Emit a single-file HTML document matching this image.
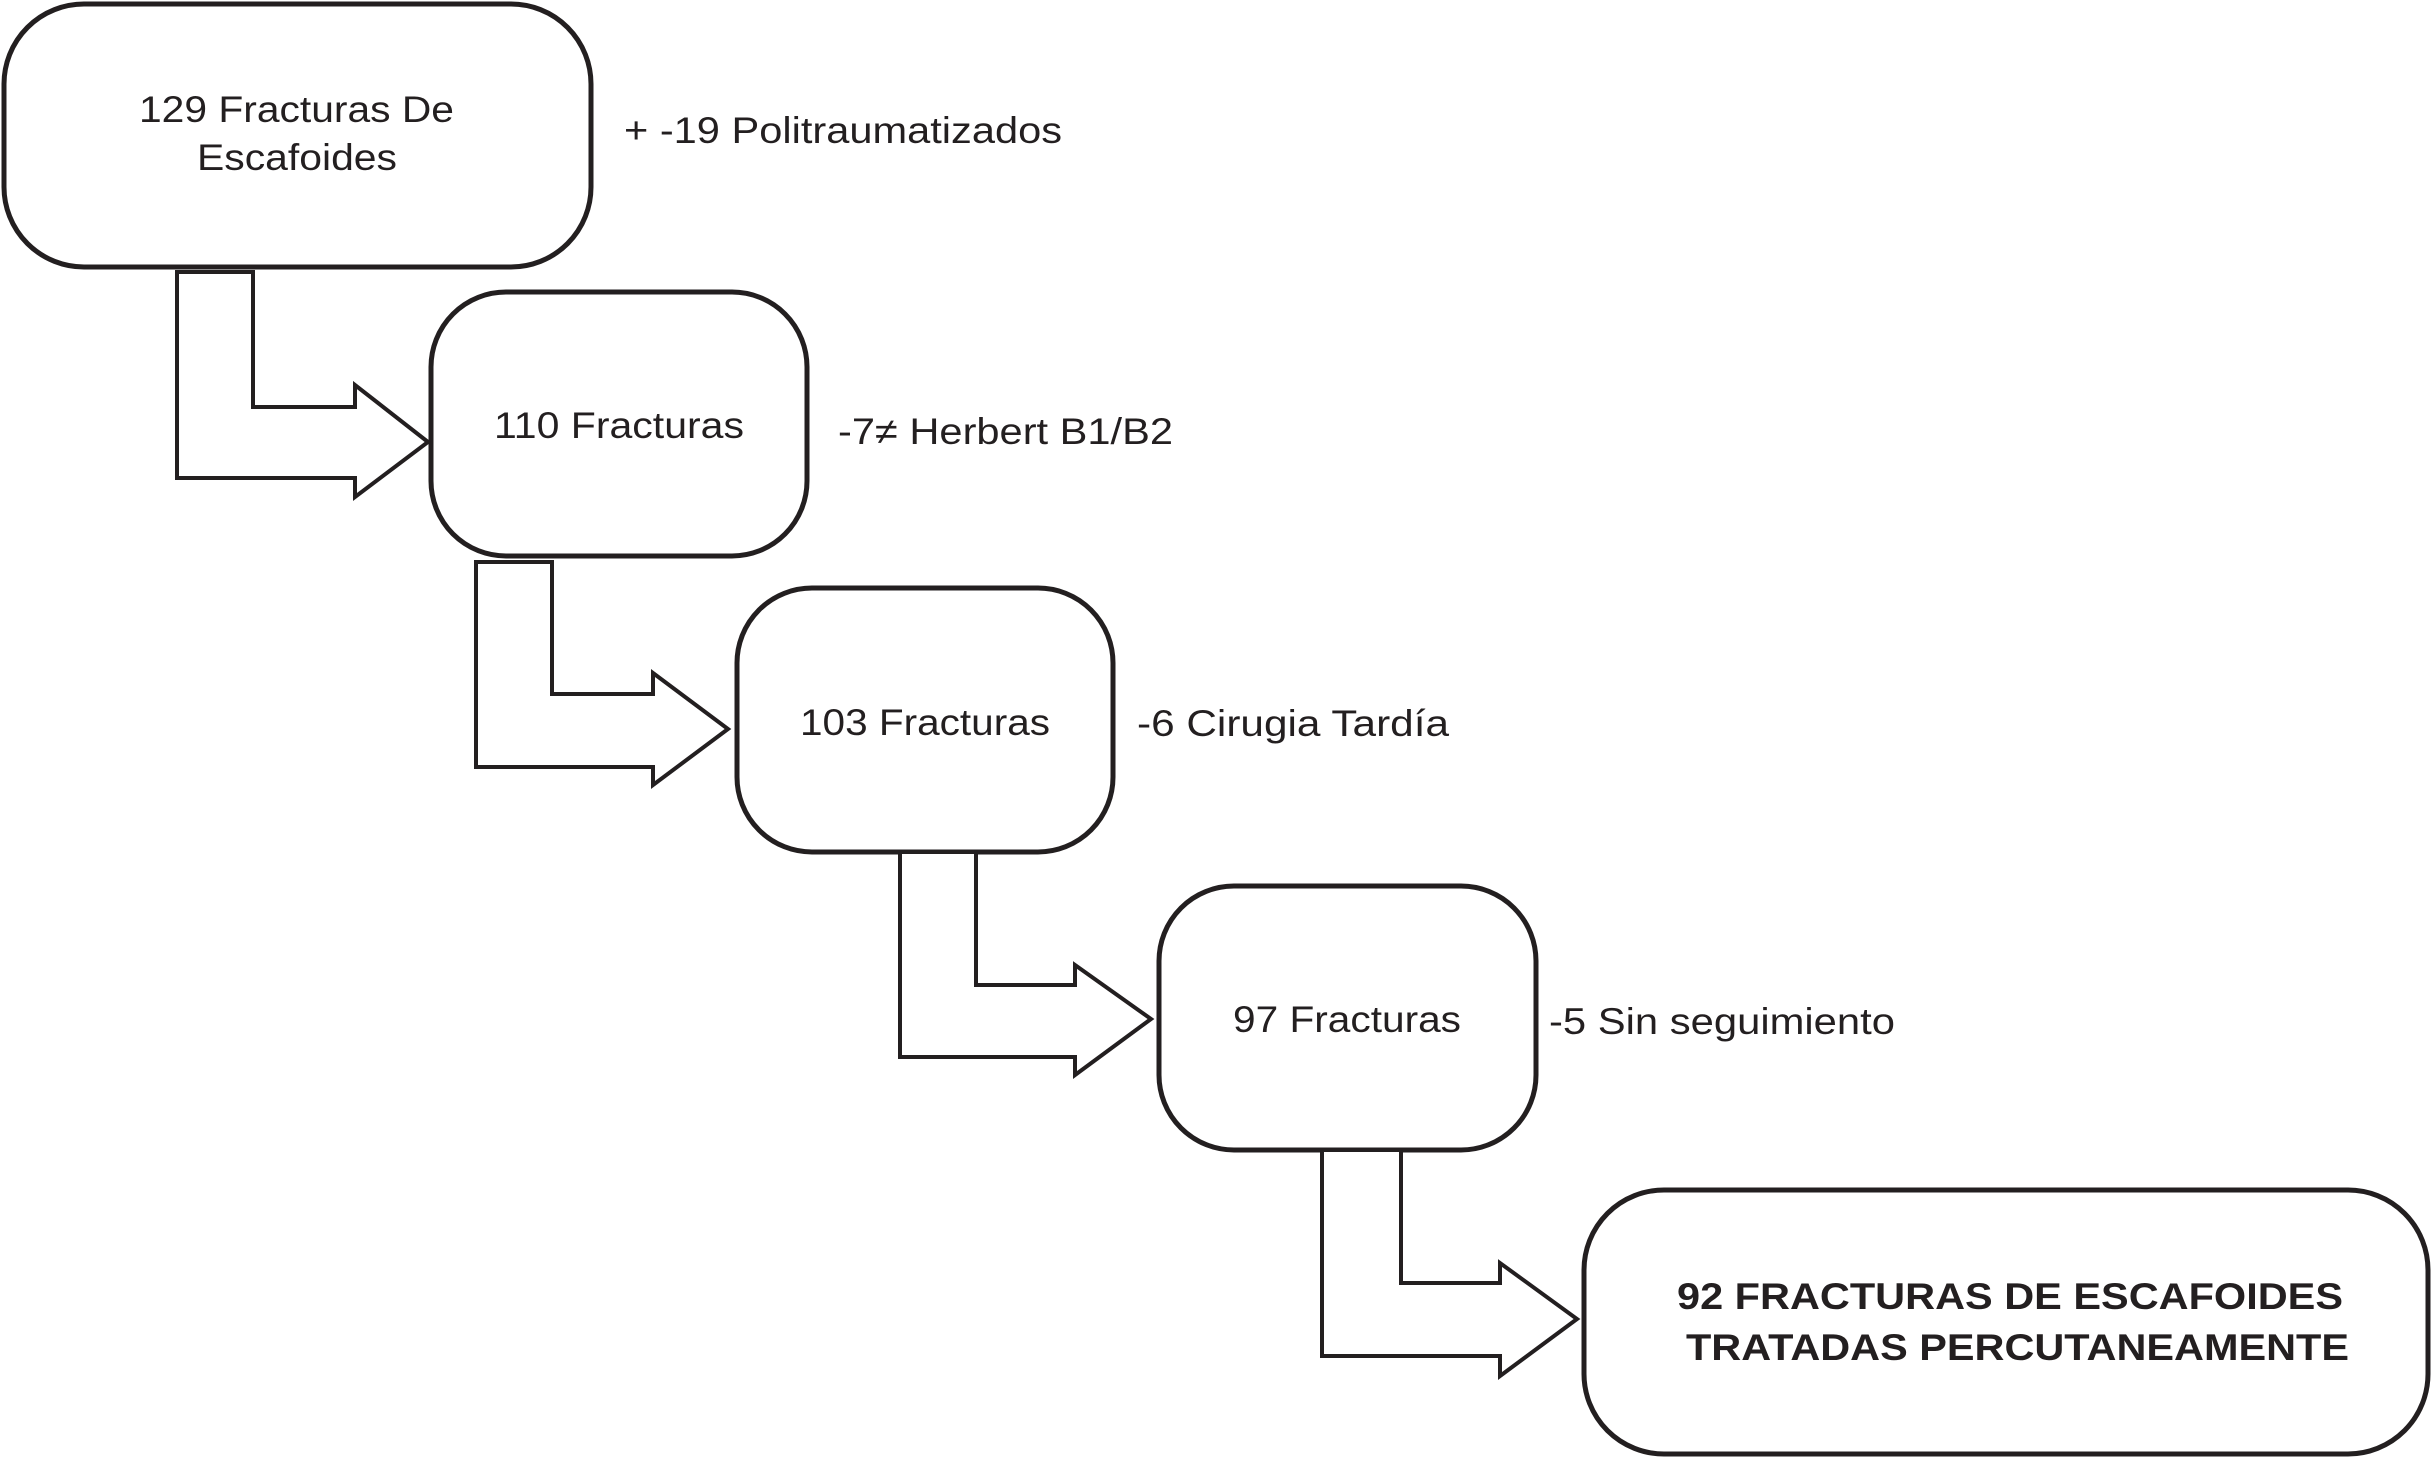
<!DOCTYPE html>
<html><head><meta charset="utf-8"><style>html,body{margin:0;padding:0;background:#fff}svg{display:block}</style></head>
<body>
<svg width="2433" height="1457" viewBox="0 0 2433 1457" xmlns="http://www.w3.org/2000/svg">
<g fill="#fff" stroke="#231f20" stroke-width="5">
<rect x="4" y="4" width="587" height="263" rx="80" ry="80"/>
<rect x="431" y="292" width="376" height="264" rx="75" ry="75"/>
<rect x="737" y="588" width="376" height="264" rx="75" ry="75"/>
<rect x="1159" y="886" width="377" height="264" rx="75" ry="75"/>
<rect x="1584" y="1190" width="844" height="264" rx="80" ry="80"/>
</g>
<g fill="#fff" stroke="#231f20" stroke-width="4" stroke-linejoin="miter">
<polygon points="177,272 253,272 253,407 355,407 355,385 428,442 355,497 355,478 177,478"/>
<polygon points="476,562 552,562 552,694 653,694 653,673 728,729 653,785 653,767 476,767"/>
<polygon points="900,852 976,852 976,985 1075,985 1075,965 1151,1019 1075,1075 1075,1057 900,1057"/>
<polygon points="1322,1150 1401,1150 1401,1283 1500,1283 1500,1263 1577,1319 1500,1376 1500,1356 1322,1356"/>
</g>
<g font-family="Liberation Sans, sans-serif" font-size="37" fill="#231f20" lengthAdjust="spacingAndGlyphs">
<text x="139" y="122" textLength="315" lengthAdjust="spacingAndGlyphs">129 Fracturas De</text>
<text x="197" y="170" textLength="200" lengthAdjust="spacingAndGlyphs">Escafoides</text>
<text x="624" y="143" textLength="438" lengthAdjust="spacingAndGlyphs">+ -19 Politraumatizados</text>
<text x="494" y="438" textLength="250" lengthAdjust="spacingAndGlyphs">110 Fracturas</text>
<text x="838" y="444" textLength="335" lengthAdjust="spacingAndGlyphs">-7≠ Herbert B1/B2</text>
<text x="800" y="735" textLength="250" lengthAdjust="spacingAndGlyphs">103 Fracturas</text>
<text x="1137" y="736" textLength="312" lengthAdjust="spacingAndGlyphs">-6 Cirugia Tardía</text>
<text x="1233" y="1032" textLength="228" lengthAdjust="spacingAndGlyphs">97 Fracturas</text>
<text x="1549" y="1034" textLength="346" lengthAdjust="spacingAndGlyphs">-5 Sin seguimiento</text>
<text x="1677" y="1309" font-weight="bold" textLength="666" lengthAdjust="spacingAndGlyphs">92 FRACTURAS DE ESCAFOIDES</text>
<text x="1686" y="1360" font-weight="bold" textLength="663" lengthAdjust="spacingAndGlyphs">TRATADAS PERCUTANEAMENTE</text>
</g>
</svg>
</body></html>
